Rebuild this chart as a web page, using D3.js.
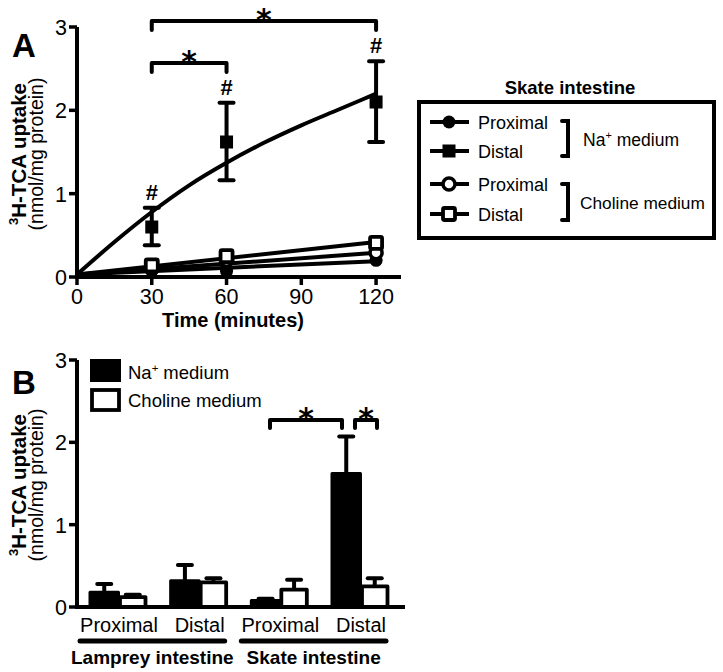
<!DOCTYPE html>
<html><head><meta charset="utf-8">
<script src="https://cdn.jsdelivr.net/npm/d3@7"></script>
<style>body{margin:0;background:#fff}svg{display:block;font-family:"Liberation Sans",Arial,sans-serif}</style>
</head><body>
<script>
// ---------- Panel A data ----------
const timeTicks = [0, 30, 60, 90, 120];
const yTicks = [0, 1, 2, 3];
const times = [30, 60, 120];
const naProximal = [0.08, 0.07, 0.20];
const naDistal = [0.60, 1.62, 2.10];
const naDistalErrLow = [0.38, 1.16, 1.62];
const naDistalErrHigh = [0.83, 2.09, 2.59];
const chProximal = [0.10, 0.20, 0.29];
const chDistal = [0.14, 0.25, 0.41];
// fitted lines
const lineEnds = [0, 120];
const naProximalFit = [0.03, 0.19];
const chProximalFit = [0.03, 0.29];
const chDistalFit = [0.03, 0.42];
const fitTimes = [0, 15, 30, 45, 60, 75, 90, 105, 120];
const naDistalFit = [0.03, 0.42, 0.78, 1.10, 1.37, 1.61, 1.82, 2.01, 2.20];
// ---------- Panel B data ----------
const regions = ["Proximal", "Distal", "Proximal ", "Distal "];
const species = ["Lamprey intestine", "Skate intestine"];
const media = ["Na⁺ medium", "Choline medium"];
const barNa = [0.18, 0.32, 0.08, 1.62];
const barNaErr = [0.28, 0.51, 0.10, 2.07];
const barCh = [0.12, 0.30, 0.21, 0.25];
const barChErr = [0.15, 0.35, 0.33, 0.35];

const svg = d3.select("body").append("svg").attr("width", 723).attr("height", 672);
const SW = 4;
const TICK_FS = 21.5;

// ================= Panel A =================
const xA = d3.scaleLinear().domain([0, 130]).range([77, 401]);
const yA = d3.scaleLinear().domain([0, 3]).range([277, 27]);
const gA = svg.append("g");

gA.append("line").attr("x1", xA(0)).attr("x2", xA(130)).attr("y1", yA(0)).attr("y2", yA(0)).attr("stroke", "#000").attr("stroke-width", 4);
gA.append("line").attr("x1", xA(0)).attr("x2", xA(0)).attr("y1", yA(0) + 2).attr("y2", yA(3)).attr("stroke", "#000").attr("stroke-width", 4);
yTicks.forEach(v => {
  gA.append("line").attr("x1", xA(0) - 8).attr("x2", xA(0)).attr("y1", yA(v)).attr("y2", yA(v)).attr("stroke", "#000").attr("stroke-width", 3.5);
  gA.append("text").attr("x", xA(0) - 10).attr("y", yA(v) + 8).attr("text-anchor", "end").attr("font-size", TICK_FS).text(v);
});
timeTicks.forEach(v => {
  gA.append("line").attr("x1", xA(v)).attr("x2", xA(v)).attr("y1", yA(0)).attr("y2", yA(0) + 8).attr("stroke", "#000").attr("stroke-width", 3.5);
  gA.append("text").attr("x", xA(v)).attr("y", yA(0) + 27).attr("text-anchor", "middle").attr("font-size", TICK_FS).text(v);
});
gA.append("text").attr("x", 233).attr("y", 327).attr("text-anchor", "middle").attr("font-size", 20).attr("font-weight", "bold").text("Time (minutes)");
function yTitle(g, cy) {
  const t = g.append("text").attr("transform", `translate(26,${cy}) rotate(-90)`).attr("text-anchor", "middle").attr("font-size", 20.5).attr("font-weight", "bold");
  t.append("tspan").attr("font-size", 13).attr("dy", -8).text("3");
  t.append("tspan").attr("dy", 8).text("H-TCA uptake");
  g.append("text").attr("transform", `translate(43,${cy}) rotate(-90)`).attr("text-anchor", "middle").attr("font-size", 19.5).text("(nmol/mg protein)");
}
yTitle(gA, 154);
gA.append("text").attr("x", 12).attr("y", 57).attr("font-size", 33).attr("font-weight", "bold").text("A");

const line = d3.line().x(d => xA(d[0])).y(d => yA(d[1]));
const lineCurve = d3.line().x(d => xA(d[0])).y(d => yA(d[1])).curve(d3.curveMonotoneX);
[naProximalFit, chProximalFit, chDistalFit].forEach(s => {
  gA.append("path").attr("d", line(lineEnds.map((t, i) => [t, s[i]]))).attr("fill", "none").attr("stroke", "#000").attr("stroke-width", SW);
});
gA.append("path").attr("d", lineCurve(fitTimes.map((t, i) => [t, naDistalFit[i]]))).attr("fill", "none").attr("stroke", "#000").attr("stroke-width", SW);

times.forEach((t, i) => {
  const x = xA(t);
  gA.append("line").attr("x1", x).attr("x2", x).attr("y1", yA(naDistalErrLow[i])).attr("y2", yA(naDistalErrHigh[i])).attr("stroke", "#000").attr("stroke-width", SW);
  [naDistalErrLow[i], naDistalErrHigh[i]].forEach(v => {
    gA.append("line").attr("x1", x - 7).attr("x2", x + 7).attr("y1", yA(v)).attr("y2", yA(v)).attr("stroke", "#000").attr("stroke-width", SW).attr("stroke-linecap", "round");
  });
  gA.append("text").attr("x", x).attr("y", yA(naDistalErrHigh[i]) - 8).attr("text-anchor", "middle").attr("font-size", 22).attr("font-weight", "bold").attr("fill", "#000").text("#");
});

function marker(g, type, x, y) {
  if (type === "fc") g.append("circle").attr("cx", x).attr("cy", y).attr("r", 6.5).attr("fill", "#000");
  if (type === "oc") g.append("circle").attr("cx", x).attr("cy", y).attr("r", 6).attr("fill", "#fff").attr("stroke", "#000").attr("stroke-width", 3.5);
  if (type === "fs") g.append("rect").attr("x", x - 6.5).attr("y", y - 6.5).attr("width", 13).attr("height", 13).attr("fill", "#000");
  if (type === "os") g.append("rect").attr("x", x - 6).attr("y", y - 6).attr("width", 12).attr("height", 12).attr("rx", 1.5).attr("fill", "#fff").attr("stroke", "#000").attr("stroke-width", 3.8);
}
times.forEach((t, i) => {
  marker(gA, "fc", xA(t), yA(naProximal[i]));
  marker(gA, "oc", xA(t), yA(chProximal[i]));
  marker(gA, "os", xA(t), yA(chDistal[i]));
  marker(gA, "fs", xA(t), yA(naDistal[i]));
});

function bracket(g, x1, x2, y, drop) {
  g.append("path").attr("d", `M${x1},${y + drop}V${y}H${x2}V${y + drop}`).attr("fill", "none").attr("stroke", "#000").attr("stroke-width", 4).attr("stroke-linecap", "round").attr("stroke-linejoin", "round");
  g.append("text").attr("x", (x1 + x2) / 2).attr("y", y + 9).attr("text-anchor", "middle").attr("font-family", "DejaVu Sans").attr("font-size", 30).attr("font-weight", "bold").attr("fill", "#000").text("*");
}
bracket(gA, xA(30), xA(120), 21, 9);
bracket(gA, xA(30), xA(60), 63, 9);

// legend A
const lg = svg.append("g");
lg.append("text").attr("x", 570).attr("y", 94).attr("text-anchor", "middle").attr("font-size", 18.5).attr("font-weight", "bold").text("Skate intestine");
lg.append("rect").attr("x", 419).attr("y", 102).attr("width", 295).attr("height", 136).attr("fill", "none").attr("stroke", "#000").attr("stroke-width", 4);
const legRows = [["fc", "Proximal", 122], ["fs", "Distal", 151], ["oc", "Proximal", 184], ["os", "Distal", 214]];
legRows.forEach(([t, lab, y]) => {
  lg.append("line").attr("x1", 430).attr("x2", 469).attr("y1", y).attr("y2", y).attr("stroke", "#000").attr("stroke-width", 4);
  marker(lg, t, 449, y);
  lg.append("text").attr("x", 478).attr("y", y + 7).attr("font-size", 18).text(lab);
});
function legBracket(y1, y2) {
  lg.append("path").attr("d", `M562,${y1}H568V${y2}H562`).attr("fill", "none").attr("stroke", "#000").attr("stroke-width", 4).attr("stroke-linecap", "round");
}
legBracket(121, 156);
legBracket(184, 220);
function naLabel(g, x, y, fs) {
  const t = g.append("text").attr("x", x).attr("y", y).attr("font-size", fs);
  t.append("tspan").text("Na");
  t.append("tspan").attr("font-size", fs * 0.62).attr("dy", -7).text("+");
  t.append("tspan").attr("dy", 7).attr("dx", 5).text("medium");
}
naLabel(lg, 583, 146, 17.5);
lg.append("text").attr("x", 580).attr("y", 209).attr("font-size", 17.3).text("Choline medium");

// ================= Panel B =================
const gB = svg.append("g");
const yB = d3.scaleLinear().domain([0, 3]).range([607, 360]);
const xB = d3.scalePoint().domain(regions).range([119, 361]);
const sub = d3.scaleBand().domain(media).range([-29, 28]).padding(0);

gB.append("line").attr("x1", 77).attr("x2", 405).attr("y1", yB(0)).attr("y2", yB(0)).attr("stroke", "#000").attr("stroke-width", 4);
gB.append("line").attr("x1", 77).attr("x2", 77).attr("y1", yB(0) + 2).attr("y2", yB(3)).attr("stroke", "#000").attr("stroke-width", 4);
yTicks.forEach(v => {
  gB.append("line").attr("x1", 69).attr("x2", 77).attr("y1", yB(v)).attr("y2", yB(v)).attr("stroke", "#000").attr("stroke-width", 3.5);
  gB.append("text").attr("x", 67).attr("y", yB(v) + 8).attr("text-anchor", "end").attr("font-size", TICK_FS).text(v);
});
yTitle(gB, 485);
gB.append("text").attr("x", 12).attr("y", 394).attr("font-size", 33).attr("font-weight", "bold").text("B");

regions.forEach((r, i) => {
  const c = xB(r);
  [[barNa[i], barNaErr[i], media[0]], [barCh[i], barChErr[i], media[1]]].forEach(([v, e, m]) => {
    const cx = c + sub(m) + sub.bandwidth() / 2;
    gB.append("line").attr("x1", cx).attr("x2", cx).attr("y1", yB(v)).attr("y2", yB(e)).attr("stroke", "#000").attr("stroke-width", SW);
    gB.append("line").attr("x1", cx - 7).attr("x2", cx + 7).attr("y1", yB(e)).attr("y2", yB(e)).attr("stroke", "#000").attr("stroke-width", SW).attr("stroke-linecap", "round");
  });
  gB.append("rect").attr("x", c + sub(media[0])).attr("y", yB(barNa[i])).attr("width", sub.bandwidth()).attr("height", yB(0) - yB(barNa[i])).attr("fill", "#000").attr("stroke", "#000").attr("stroke-width", 3).attr("stroke-linejoin", "round");
  gB.append("rect").attr("x", c + sub(media[1]) + 1.5).attr("y", yB(barCh[i])).attr("width", sub.bandwidth() - 3).attr("height", yB(0) - yB(barCh[i])).attr("fill", "#fff").attr("stroke", "#000").attr("stroke-width", 3.8).attr("stroke-linejoin", "round");
  gB.append("text").attr("x", c).attr("y", 632).attr("text-anchor", "middle").attr("font-size", 20).text(r.trim());
});
species.forEach((s, j) => {
  const a = xB(regions[j * 2]) - 39, b = xB(regions[j * 2 + 1]) + 25;
  gB.append("line").attr("x1", a).attr("x2", b).attr("y1", 641).attr("y2", 641).attr("stroke", "#000").attr("stroke-width", 5).attr("stroke-linecap", "round");
  gB.append("text").attr("x", (a + b) / 2).attr("y", 664).attr("text-anchor", "middle").attr("font-size", 19).attr("font-weight", "bold").text(s);
});
gB.append("rect").attr("x", 91).attr("y", 360).attr("width", 29).attr("height", 21).attr("fill", "#000").attr("stroke", "#000").attr("stroke-width", 2);
gB.append("rect").attr("x", 92).attr("y", 390).attr("width", 27).attr("height", 20).attr("fill", "#fff").attr("stroke", "#000").attr("stroke-width", 3.8);
naLabel(gB, 128, 379, 18.5);
gB.append("text").attr("x", 128).attr("y", 407).attr("font-size", 18.5).text("Choline medium");
bracket(gB, 270, 342, 420, 8);
bracket(gB, 355, 377, 420, 8);
</script>
</body></html>
